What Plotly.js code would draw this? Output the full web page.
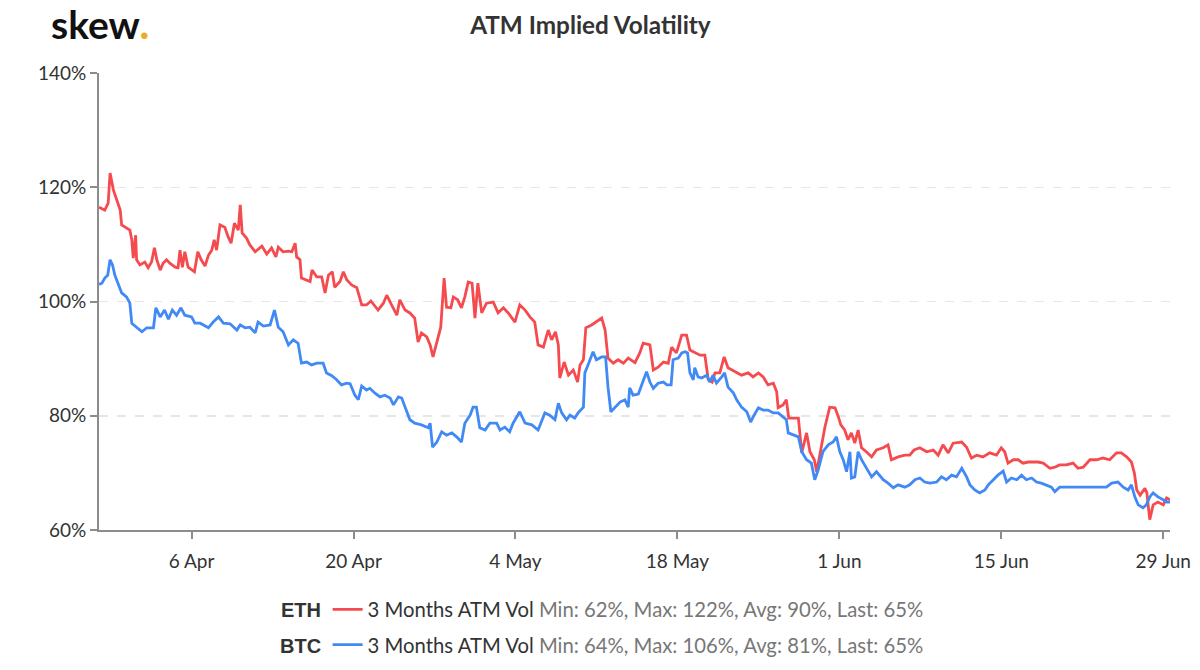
<!DOCTYPE html>
<html>
<head>
<meta charset="utf-8">
<script src="https://cdn.plot.ly/plotly-3.0.1.min.js"></script>
<style>html,body{margin:0;padding:0;background:#fff;}#chart{width:1200px;height:670px;}</style>
</head>
<body>
<div id="chart"></div>
<script>
// ETH 3 Months ATM Vol (time "MM-DD HH", 2020) and values in %
const ethTimes = ["03-29 00","03-29 02","03-29 12","03-29 19","03-29 23","03-30 06","03-30 13","03-30 20","03-30 23","03-31 09","03-31 16","03-31 20","03-31 23","04-01 04","04-01 06","04-01 13","04-01 23","04-02 06","04-02 13","04-02 19","04-03 00","04-03 07","04-03 13","04-03 20","04-04 03","04-04 14","04-04 20","04-05 00","04-05 05","04-05 10","04-05 17","04-06 06","04-06 13","04-06 20","04-07 04","04-07 11","04-07 18","04-07 23","04-08 04","04-08 11","04-08 21","04-09 04","04-09 10","04-09 17","04-10 01","04-10 05","04-10 09","04-10 18","04-11 01","04-11 12","04-12 02","04-12 12","04-12 22","04-13 07","04-13 12","04-13 22","04-14 09","04-14 16","04-14 23","04-15 02","04-15 09","04-15 12","04-15 23","04-16 06","04-16 10","04-16 20","04-17 06","04-17 13","04-17 20","04-18 04","04-18 09","04-18 20","04-19 03","04-19 10","04-19 20","04-20 07","04-20 17","04-21 03","04-21 12","04-22 03","04-22 14","04-22 21","04-23 07","04-23 18","04-24 00","04-24 11","04-24 21","04-25 07","04-25 14","04-25 21","04-26 08","04-26 15","04-26 21","04-27 05","04-27 13","04-27 20","04-28 01","04-28 10","04-28 15","04-29 00","04-29 08","04-29 15","04-29 22","04-30 06","04-30 12","04-30 18","05-01 02","05-01 12","05-02 02","05-02 12","05-02 23","05-03 09","05-03 23","05-04 09","05-04 20","05-05 06","05-05 16","05-05 23","05-06 10","05-06 20","05-07 03","05-07 11","05-07 17","05-07 20","05-08 05","05-08 14","05-09 00","05-09 09","05-09 14","05-09 21","05-10 02","05-10 14","05-11 00","05-11 11","05-11 18","05-12 00","05-12 11","05-12 21","05-13 08","05-13 18","05-14 08","05-14 18","05-15 01","05-15 15","05-15 22","05-16 08","05-16 19","05-17 05","05-17 12","05-17 22","05-18 09","05-18 19","05-19 02","05-19 12","05-19 23","05-20 09","05-20 16","05-21 00","05-21 06","05-21 16","05-22 01","05-22 09","05-22 23","05-23 13","05-24 03","05-24 13","05-25 00","05-25 10","05-25 20","05-26 07","05-26 14","05-26 17","05-27 03","05-27 10","05-27 15","05-28 00","05-28 11","05-28 18","05-29 04","05-29 11","05-29 20","05-30 01","05-30 08","05-30 18","05-31 04","05-31 15","05-31 22","06-01 03","06-01 11","06-01 18","06-02 01","06-02 08","06-02 15","06-02 22","06-03 08","06-03 19","06-04 05","06-04 19","06-05 05","06-05 12","06-06 02","06-06 16","06-07 02","06-07 11","06-07 23","06-08 13","06-09 03","06-09 13","06-09 23","06-10 10","06-10 20","06-11 14","06-12 00","06-12 10","06-12 21","06-13 10","06-14 00","06-14 14","06-15 00","06-15 07","06-15 14","06-16 01","06-16 11","06-16 21","06-17 08","06-17 18","06-18 04","06-18 15","06-19 05","06-19 15","06-20 01","06-20 15","06-21 05","06-21 15","06-22 02","06-22 16","06-23 06","06-23 19","06-24 09","06-24 23","06-25 09","06-25 20","06-26 06","06-26 12","06-26 17","06-27 00","06-27 10","06-27 14","06-27 20","06-28 03","06-28 13","06-29 00","06-29 07","06-29 14"];
const ethVals = [116.5,116.4,116.0,117.2,122.5,119.5,117.8,116.0,113.4,112.9,112.5,110.8,107.6,111.6,107.3,106.4,106.9,105.9,106.9,109.4,107.3,105.5,106.7,107.3,106.7,106.0,105.9,109.0,106.0,108.7,106.0,105.2,108.7,107.3,106.2,108.1,109.0,110.8,109.0,113.4,113.0,111.3,110.2,113.7,112.5,116.9,112.0,111.1,109.9,108.7,109.7,108.3,109.4,107.8,109.5,108.7,108.8,108.7,110.2,107.8,107.3,104.1,103.8,103.5,105.5,104.3,104.3,101.5,104.6,105.2,102.5,103.5,105.2,103.8,102.9,102.4,99.4,99.4,100.1,98.5,99.7,101.1,99.4,97.6,100.3,98.5,98.0,97.1,92.9,94.5,93.8,92.4,90.3,92.7,95.5,104.1,99.0,98.9,100.8,100.3,98.9,100.8,103.4,103.2,97.1,103.2,98.0,99.7,99.9,98.0,98.9,98.0,96.4,99.4,98.5,97.3,96.4,92.4,92.0,95.0,93.3,94.7,92.4,86.6,89.4,87.1,88.0,85.9,88.9,89.8,95.4,95.9,96.4,97.1,95.0,90.1,89.2,89.8,89.2,90.1,89.3,91.0,92.7,92.4,88.0,88.5,89.4,89.2,92.0,91.0,94.1,94.1,91.5,91.0,90.6,90.6,86.3,85.9,87.5,87.5,90.3,88.4,87.7,87.1,87.5,86.8,87.5,86.8,85.4,85.7,84.2,81.4,81.9,82.8,79.6,79.6,79.6,73.5,77.0,73.7,72.3,70.2,73.5,78.0,81.5,81.4,79.8,78.4,77.5,75.8,77.0,75.2,77.5,74.4,73.7,72.8,74.0,74.4,74.9,72.3,72.8,73.1,73.1,74.0,74.4,73.7,74.0,73.1,74.9,73.5,75.2,75.4,74.5,72.6,73.1,72.8,73.5,73.1,74.4,73.7,71.7,72.3,72.3,71.7,71.9,71.9,71.9,71.7,70.8,71.0,71.4,71.4,71.7,70.8,71.0,72.3,72.3,72.6,72.3,73.5,73.5,72.8,71.9,70.0,67.0,66.1,67.3,66.5,61.8,64.4,64.9,64.4,65.6,65.3];

// BTC 3 Months ATM Vol
const btcTimes = ["03-29 00","03-29 06","03-29 12","03-29 18","03-29 23","03-30 04","03-30 09","03-30 16","03-30 23","03-31 09","03-31 16","03-31 20","04-01 06","04-01 17","04-02 03","04-02 17","04-02 22","04-03 07","04-03 16","04-04 00","04-04 08","04-04 17","04-05 02","04-05 10","04-06 00","04-06 07","04-06 18","04-07 11","04-07 21","04-08 08","04-08 18","04-09 08","04-09 22","04-10 05","04-10 15","04-11 01","04-11 12","04-11 18","04-12 05","04-12 19","04-13 04","04-13 12","04-13 22","04-14 09","04-14 19","04-15 05","04-15 12","04-15 23","04-16 09","04-16 20","04-17 09","04-17 16","04-18 03","04-18 13","04-18 23","04-19 10","04-19 17","04-20 03","04-20 10","04-20 17","04-21 03","04-21 10","04-21 20","04-22 07","04-22 17","04-23 04","04-23 11","04-23 21","04-24 04","04-24 11","04-24 21","04-25 07","04-25 21","04-26 11","04-26 15","04-26 20","04-27 05","04-27 15","04-28 01","04-28 12","04-28 22","04-29 08","04-29 15","04-30 02","04-30 08","04-30 15","04-30 22","05-01 09","05-01 19","05-02 09","05-02 16","05-03 02","05-03 12","05-03 19","05-04 09","05-04 20","05-05 10","05-05 23","05-06 13","05-06 23","05-07 10","05-07 17","05-08 00","05-08 10","05-08 17","05-09 03","05-09 10","05-09 21","05-10 00","05-10 08","05-10 17","05-11 00","05-11 11","05-11 19","05-12 00","05-12 06","05-12 14","05-13 01","05-13 11","05-13 18","05-13 21","05-14 04","05-14 15","05-15 01","05-15 08","05-15 15","05-15 22","05-16 08","05-16 19","05-17 02","05-17 11","05-17 15","05-18 02","05-18 09","05-18 16","05-18 21","05-19 02","05-19 09","05-19 12","05-19 19","05-20 02","05-20 13","05-20 19","05-21 02","05-21 09","05-21 20","05-22 02","05-22 09","05-22 20","05-23 03","05-23 13","05-24 00","05-24 08","05-24 15","05-25 00","05-25 10","05-25 20","05-26 07","05-26 17","05-27 03","05-27 10","05-27 14","05-28 00","05-28 11","05-28 18","05-29 04","05-29 14","05-29 21","05-30 04","05-30 14","05-31 01","05-31 11","05-31 18","06-01 01","06-01 08","06-01 15","06-01 22","06-02 01","06-02 08","06-02 15","06-02 22","06-03 08","06-03 19","06-04 05","06-04 19","06-05 05","06-05 16","06-06 02","06-06 16","06-07 02","06-07 13","06-07 23","06-08 09","06-08 20","06-09 10","06-09 20","06-10 06","06-10 17","06-11 03","06-11 14","06-12 00","06-12 07","06-12 17","06-13 03","06-13 14","06-13 21","06-14 07","06-14 17","06-15 04","06-15 11","06-15 21","06-16 08","06-16 18","06-17 04","06-17 15","06-18 01","06-18 11","06-18 22","06-19 08","06-19 15","06-20 01","06-20 15","06-21 05","06-21 19","06-22 09","06-22 23","06-23 12","06-24 02","06-24 13","06-25 02","06-25 13","06-25 23","06-26 06","06-26 13","06-26 20","06-27 06","06-27 13","06-27 20","06-28 03","06-28 13","06-29 00","06-29 07","06-29 14"];
const btcVals = [103.0,103.2,104.1,104.6,107.3,106.4,104.6,102.9,101.5,100.8,99.7,96.2,95.4,94.7,95.4,95.4,98.9,97.3,98.5,96.9,98.5,97.6,98.9,97.6,97.3,96.2,96.2,95.4,96.4,97.3,96.2,96.1,95.0,95.9,95.4,95.5,94.5,96.4,95.7,95.9,98.5,95.5,94.7,92.4,93.3,92.7,89.2,89.4,88.9,89.2,89.2,87.5,87.0,86.3,85.4,85.7,85.6,83.6,82.8,85.2,84.5,84.8,84.0,83.3,83.6,83.1,81.9,83.3,83.1,81.5,79.3,78.7,78.4,77.9,78.7,74.5,75.4,77.2,76.6,77.0,76.3,75.4,78.7,80.1,81.5,81.5,77.9,77.5,78.7,78.7,77.5,78.0,77.2,78.7,80.7,78.7,78.4,77.5,80.5,80.1,79.3,82.2,80.5,79.3,80.1,79.6,80.5,81.5,87.5,89.2,91.2,89.8,90.3,90.3,85.0,80.7,81.4,82.4,82.8,81.5,84.9,83.6,83.8,85.9,87.7,85.9,84.8,85.7,85.9,85.4,85.4,89.8,90.1,91.0,91.2,91.0,87.5,86.3,88.4,86.8,86.6,87.1,85.9,87.1,85.7,86.8,87.5,85.0,84.0,82.8,81.5,80.7,78.9,80.1,81.4,81.0,81.0,80.5,80.5,79.8,79.3,77.0,76.6,76.3,73.7,72.3,71.7,68.8,70.5,73.7,74.9,75.4,76.3,73.7,72.3,70.2,73.7,69.1,69.3,73.7,72.3,70.8,69.3,70.2,68.8,68.2,67.4,67.9,67.5,67.9,68.8,69.1,68.4,68.2,68.4,69.3,68.8,69.6,69.3,70.8,69.3,67.9,67.0,66.5,67.0,67.9,68.8,69.6,70.3,68.4,69.1,68.8,69.6,68.8,69.1,68.4,68.2,67.9,67.5,66.7,67.5,67.5,67.5,67.5,67.5,67.5,67.5,67.5,68.2,68.4,67.5,67.0,67.9,65.8,64.4,63.9,64.4,65.8,66.5,65.8,65.3,64.9,64.9];

const yTicks = [60, 80, 100, 120, 140];
const yTickText = ["60%", "80%", "100%", "120%", "140%"];
const xTicks = ["2020-04-06", "2020-04-20", "2020-05-04", "2020-05-18", "2020-06-01", "2020-06-15", "2020-06-29"];
const ethStats = "Min: 62%, Max: 122%, Avg: 90%, Last: 65%";
const btcStats = "Min: 64%, Max: 106%, Avg: 81%, Last: 65%";
const seriesLabel = "3 Months ATM Vol";

const toDate = t => "2020-" + t + ":00";

const traces = [
  {
    x: ethTimes.map(toDate), y: ethVals, type: "scatter", mode: "lines",
    name: seriesLabel + " <span style='color:#777'>" + ethStats + "</span>",
    legendgroup: "eth",
    line: {color: "#f54b4f", width: 2.8}, hoverinfo: "skip"
  },
  {
    x: btcTimes.map(toDate), y: btcVals, type: "scatter", mode: "lines",
    name: seriesLabel + " <span style='color:#777'>" + btcStats + "</span>",
    legendgroup: "btc",
    line: {color: "#4189f5", width: 2.8}, hoverinfo: "skip"
  }
];

const layout = {
  width: 1200, height: 670,
  paper_bgcolor: "#fff", plot_bgcolor: "#fff",
  font: {family: "Lato, 'Open Sans', sans-serif", color: "#333", size: 19},
  margin: {l: 99, r: 30, t: 73, b: 140, autoexpand: false},
  title: {text: "ATM Implied Volatility", x: 0.492, xanchor: "center", y: 0.962, yanchor: "middle", yref: "container",
          font: {family: "Lato, sans-serif", size: 24.3, color: "#333", weight: "bold"}},
  xaxis: {
    type: "date",
    range: ["2020-03-29 00:00", "2020-06-29 14:00"],
    tickvals: xTicks, tickformat: "%-d %b",
    showgrid: false, zeroline: false, automargin: false,
    showline: true, linecolor: "#8c8c8c", linewidth: 2,
    ticks: "outside", ticklen: 7, tickcolor: "#8c8c8c", tickwidth: 2,
    tickfont: {size: 19, color: "#333"}, ticklabelstandoff: 6
  },
  yaxis: {
    range: [60, 140], tickvals: yTicks, ticktext: yTickText,
    showgrid: true, gridcolor: "#e6e6e6", griddash: "dash", gridwidth: 1.5,
    zeroline: false, automargin: false,
    showline: true, linecolor: "#8c8c8c", linewidth: 2,
    ticks: "outside", ticklen: 7, tickcolor: "#8c8c8c", tickwidth: 2,
    tickfont: {size: 19, color: "#333"}
  },
  showlegend: true,
  legend: {
    orientation: "v", xref: "container", yref: "container",
    x: 0.273, xanchor: "left", y: 0.12, yanchor: "top",
    font: {size: 20.3, color: "#333"}, tracegroupgap: 6, itemwidth: 30,
    bgcolor: "rgba(0,0,0,0)"
  },
  annotations: [
    {text: "<b>skew</b><span style='color:#f0a828'>.</span>", xref: "paper", yref: "paper",
     x: -0.047, xanchor: "left", y: 1.108, yanchor: "middle", showarrow: false,
     font: {family: "Lato, sans-serif", size: 39, color: "#111", weight: 900}},
    {text: "<b>ETH</b>", xref: "paper", yref: "paper", x: 0.1886, xanchor: "center", y: -0.175, yanchor: "middle",
     showarrow: false, font: {family: "'Liberation Sans', Arial, sans-serif", size: 20, color: "#333"}},
    {text: "<b>BTC</b>", xref: "paper", yref: "paper", x: 0.1886, xanchor: "center", y: -0.254, yanchor: "middle",
     showarrow: false, font: {family: "'Liberation Sans', Arial, sans-serif", size: 20, color: "#333"}}
  ]
};

Plotly.newPlot("chart", traces, layout, {displayModeBar: false, staticPlot: true});
</script>
</body>
</html>
